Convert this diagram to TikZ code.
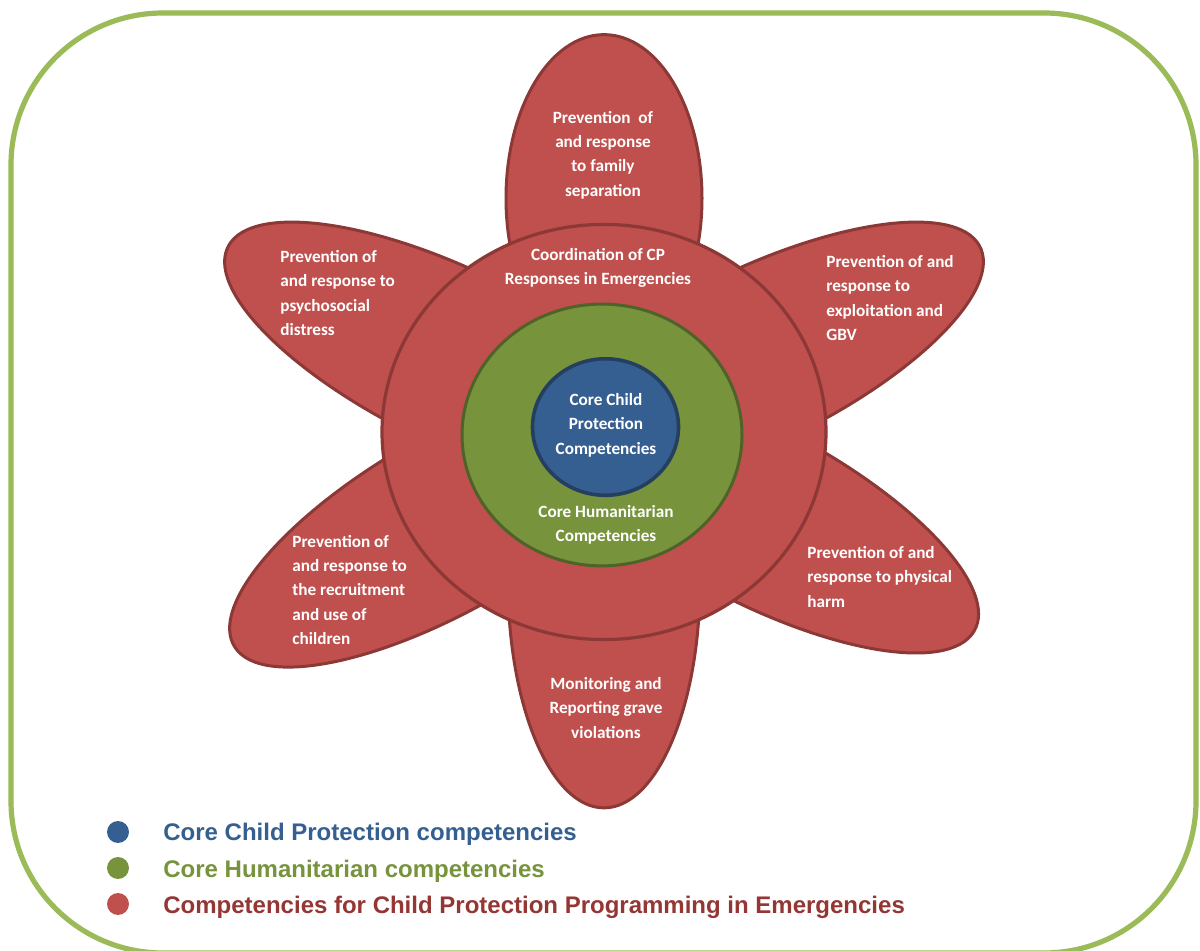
\documentclass[tikz,border=0pt]{standalone}
\usepackage{fontspec}
\setmainfont{Carlito}
\newfontfamily\legendfont{Liberation Sans}
\definecolor{petalred}{HTML}{C0504D}
\definecolor{petaledge}{HTML}{8C3836}
\definecolor{humgreen}{HTML}{77933C}
\definecolor{humedge}{HTML}{4F6228}
\definecolor{coreblue}{HTML}{365F91}
\definecolor{coreedge}{HTML}{243F60}
\definecolor{framegreen}{HTML}{9BBB59}
\definecolor{legredtext}{HTML}{943634}
\tikzset{
  petalshape/.style={fill=petalred, draw=petaledge, line width=1.5pt},
  ringshape/.style={fill=petalred, draw=petaledge, line width=1.6pt},
  humshape/.style={fill=humgreen, draw=humedge, line width=1.5pt},
  coreshape/.style={fill=coreblue, draw=coreedge, line width=1.8pt},
  frameshape/.style={draw=framegreen, line width=2.6pt, rounded corners=76pt},
  intext/.style={text=white, inner sep=0pt, font=\bfseries\fontsize{8.6}{12.2}\selectfont},
  legtext/.style={inner sep=0pt, anchor=base west, font=\legendfont\bfseries\fontsize{12}{14}\selectfont},
  legdot/.style={circle, inner sep=0pt, minimum size=11pt}
}
\begin{document}
\begin{tikzpicture}[x=0.5pt, y=-0.5pt]
\useasboundingbox (0,0) rectangle (1200,951);
\fill[white] (0,0) rectangle (1200,951);
\draw[frameshape] (11,13) rectangle (1196,953);

% inside this scope a rotation by +a points the petal at -a on the page
\begin{scope}[shift={(604,432)}, yscale=-0.935]
  \draw[petalshape, rotate=-90] (250,0) ellipse [x radius=175, y radius=98];
  \draw[petalshape, rotate=90] (160,0) ellipse [x radius=242, y radius=96];
  \draw[petalshape, rotate=-28] (170,0) ellipse [x radius=255, y radius=92];
  \draw[petalshape, rotate=-152] (170,0) ellipse [x radius=255, y radius=92];
  \draw[petalshape, rotate=30] (172,0) ellipse [x radius=255, y radius=92];
  \draw[petalshape, rotate=148] (180,0) ellipse [x radius=255, y radius=92];
  \draw[ringshape] (0,0) circle [radius=222];
  \draw[humshape] (-2,-3.2) circle [radius=140];
  \draw[coreshape] (1.5,5.3) circle [radius=73];
\end{scope}

\node[intext, align=center] (ptop) at (603,155) {Prevention~~of\\and response\\to family\\separation};
\node[intext, align=center] (pring) at (598,268) {Coordination of CP\\Responses in Emergencies};
\node[intext, align=left, anchor=west] (pul) at (280,293) {Prevention of\\and response to\\psychosocial\\distress};
\node[intext, align=left, anchor=west] (pur) at (826,298) {Prevention of and\\response to\\exploitation and\\GBV};
\node[intext, align=center] (pcore) at (606,425) {Core Child\\Protection\\Competencies};
\node[intext, align=center] (phum) at (606,525) {Core Humanitarian\\Competencies};
\node[intext, align=left, anchor=west] (pll) at (292,590) {Prevention of\\and response to\\the recruitment\\and use of\\children};
\node[intext, align=left, anchor=west] (plr) at (807,577) {Prevention of and\\response to physical\\harm};
\node[intext, align=center] (pbot) at (606,708) {Monitoring and\\Reporting grave\\violations};

\node[legdot, fill=coreblue] (dot1) at (118,832) {};
\node[legdot, fill=humgreen] (dot2) at (118,868) {};
\node[legdot, fill=petalred] (dot3) at (118,904) {};
\node[legtext, text=coreblue] (leg1) at (163,841) {Core Child Protection competencies};
\node[legtext, text=humgreen] (leg2) at (163,877) {Core Humanitarian competencies};
\node[legtext, text=legredtext] (leg3) at (163,913) {Competencies for Child Protection Programming in Emergencies};
\end{tikzpicture}
\end{document}
